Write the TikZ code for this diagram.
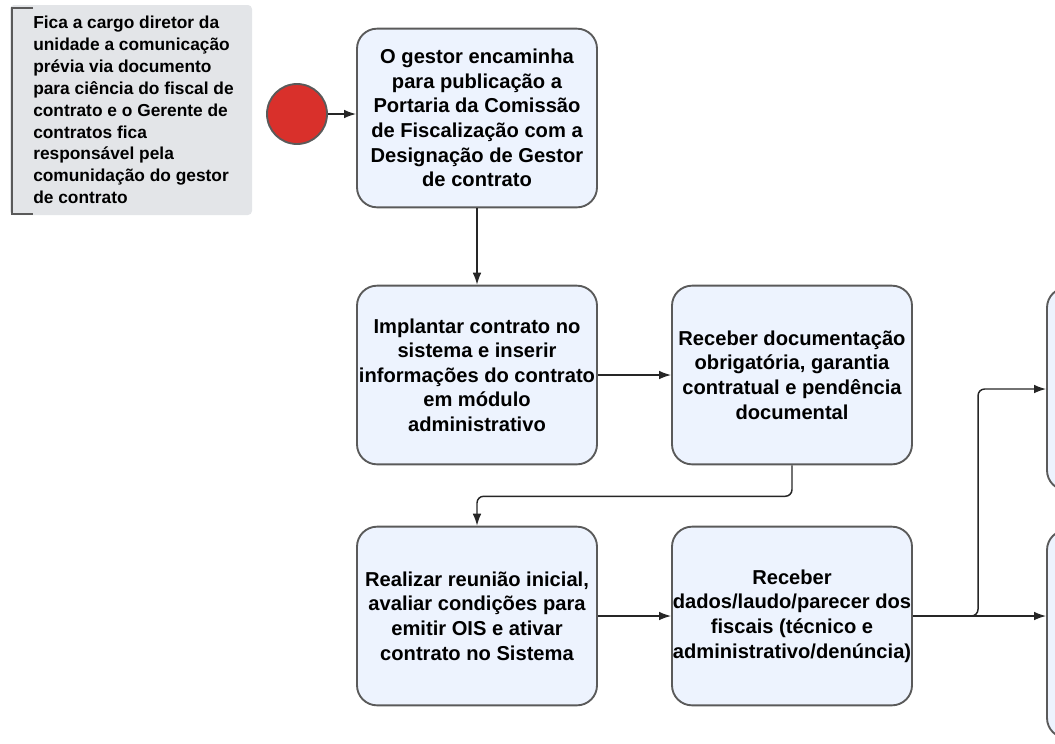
\documentclass[tikz,border=0pt]{standalone}
\usepackage{fontspec}
\setmainfont{Liberation Sans}
\usepackage{tikz}
\usetikzlibrary{arrows.meta}
\definecolor{boxfill}{HTML}{EDF3FE}
\definecolor{boxline}{HTML}{5A5A5A}
\definecolor{notefill}{HTML}{E3E5E8}
\definecolor{startred}{HTML}{D9302B}
\tikzset{procbox/.style={draw=boxline, fill=boxfill, line width=1.4pt, rounded corners=15pt, minimum width=180pt, minimum height=134pt, align=center, inner sep=0pt, font=\fontsize{15.1}{18.4}\selectfont\bfseries},
         flow/.style={draw=black!85, line width=1.1pt, -{Latex[length=9pt,width=6.5pt]}},
         notetext/.style={align=left, inner sep=0pt, font=\fontsize{13}{16.4}\selectfont\bfseries}}

\begin{document}
\begin{tikzpicture}[x=0.75pt, y=-0.75pt]
       \useasboundingbox (0,0) rectangle (1055,743);
       \clip (0,0) rectangle (1055,743);
       \begin{scope}
        \fill[notefill, rounded corners=3pt] (10,5) rectangle (252,215);
        \draw[boxline, line width=1.4pt] (33,8) -- (12,8) -- (12,214) -- (33,214);
        \node[notetext, anchor=west] (note) at (33,110) {Fica a cargo diretor da\\unidade a comunicação\\prévia via documento\\para ciência do fiscal de\\contrato e o Gerente de\\contratos fica\\responsável pela\\comunidação do gestor\\de contrato};
        \node[circle, draw=boxline, fill=startred, line width=1.4pt, minimum size=45pt, inner sep=0pt] (start) at (297,114) {};
        \node[procbox] (b1) at (477,118) {O gestor encaminha\\para publicação a\\Portaria da Comissão\\de Fiscalização com a\\Designação de Gestor\\de contrato};
        \node[procbox] (b2) at (477,375) {Implantar contrato no\\sistema e inserir\\informações do contrato\\em módulo\\administrativo};
        \node[procbox] (b3) at (792,375) {Receber documentação\\obrigatória, garantia\\contratual e pendência\\documental};
        \node[procbox] (b4) at (477,616) {Realizar reunião inicial,\\avaliar condições para\\emitir OIS e ativar\\contrato no Sistema};
        \node[procbox] (b5) at (792,616) {Receber\\dados/laudo/parecer dos\\fiscais (técnico e\\administrativo/denúncia)};
        \node[procbox, minimum height=152pt] (r1) at (1167,389) {};
        \node[procbox, minimum height=156pt] (r2) at (1167,634) {};
        \coordinate (split) at (978,616);
        \draw[flow] (start) -- (start -| b1.west);
        \draw[flow] (b1) -- (b2);
        \draw[flow] (b2) -- (b3);
        \draw[flow, rounded corners=5pt] (b3.south) -- ++(0,31) -| (b4.north);
        \draw[flow] (b4) -- (b5);
        \draw[flow] (b5.east) -- (b5.east -| r2.west);
        \draw[flow, rounded corners=5pt] (b5.east) -- (split) |- (r1.west);
       \end{scope}
      \end{tikzpicture}
\end{document}
